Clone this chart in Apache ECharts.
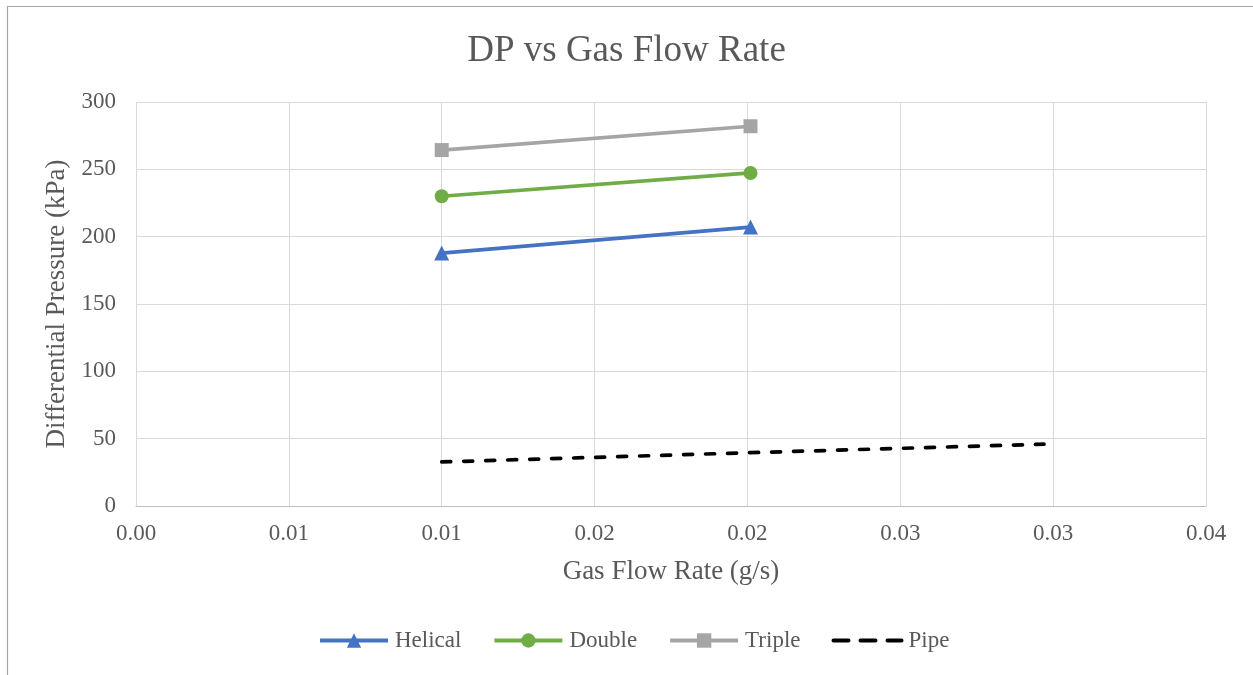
<!DOCTYPE html>
<html><head><meta charset="utf-8">
<script src="https://cdn.jsdelivr.net/npm/echarts@6/dist/echarts.min.js"></script>
<style>html,body{margin:0;padding:0;background:#fff}#c{width:1253px;height:675px}</style>
</head><body><div id="c"></div>
<script>
const xTickLabels = ["0.00","0.01","0.01","0.02","0.02","0.03","0.03","0.04"];
const helical = [[0.0100, 187.8], [0.0201, 207.1]];
const double_ = [[0.0100, 230.0], [0.0201, 247.3]];
const triple = [[0.0100, 264.3], [0.0201, 282.0]];
const pipe = [[0.0100, 32.7], [0.0201, 39.6], [0.0297, 45.9]];

const font = "'Liberation Serif','Times New Roman',serif";
const txt = '#595959';
const chart = echarts.init(document.getElementById('c'), null, {renderer:'canvas'});
chart.setOption({
  animation:false,
  backgroundColor:'#fff',
  graphic:[{type:'rect', shape:{x:7.5,y:6.5,width:1260,height:680}, style:{fill:'none', stroke:'#a6a6a6', lineWidth:1.2}, silent:true}],
  title:{text:'DP vs Gas Flow Rate', left:'center', top:28, textStyle:{fontFamily:font, fontSize:37, fontWeight:'normal', color:txt}},
  grid:{left:136, right:47, top:102, bottom:169},
  legend:{top:629, left:318, padding:0, itemGap:31, itemWidth:68, itemHeight:18,
    lineStyle:{width:4},
    textStyle:{fontFamily:font, fontSize:23, color:txt, padding:[0,0,0,2]},
    data:['Helical','Double','Triple',{name:'Pipe', itemStyle:{opacity:0}, lineStyle:{type:[15,12], width:4, cap:'round'}}]},
  xAxis:{type:'value', min:0, max:0.035, interval:0.005,
    name:'Gas Flow Rate (g/s)', nameLocation:'middle', nameGap:52,
    nameTextStyle:{fontFamily:font, fontSize:27, color:txt},
    axisLine:{show:true, lineStyle:{color:'#bfbfbf', width:1}},
    axisTick:{show:false},
    splitLine:{show:true, lineStyle:{color:'#d9d9d9', width:1}},
    axisLabel:{fontFamily:font, fontSize:23, color:txt, margin:16,
      formatter:v=>xTickLabels[Math.round(v/0.005)]}},
  yAxis:{type:'value', min:0, max:300, interval:50,
    name:'Differential Pressure (kPa)', nameLocation:'middle', nameGap:66,
    nameTextStyle:{fontFamily:font, fontSize:27, color:txt},
    axisLine:{show:false}, axisTick:{show:false},
    splitLine:{show:true, lineStyle:{color:'#d9d9d9', width:1}},
    axisLabel:{fontFamily:font, fontSize:23, color:txt, margin:20}},
  series:[
    {name:'Helical', type:'line', data:helical, symbol:'triangle', symbolSize:15,
      lineStyle:{color:'#4472c4', width:3.7}, itemStyle:{color:'#4472c4'}},
    {name:'Double', type:'line', data:double_, symbol:'circle', symbolSize:14,
      lineStyle:{color:'#70ad47', width:3.7}, itemStyle:{color:'#70ad47'}},
    {name:'Triple', type:'line', data:triple, symbol:'rect', symbolSize:14,
      lineStyle:{color:'#a5a5a5', width:3.7}, itemStyle:{color:'#a5a5a5'}},
    {name:'Pipe', type:'line', data:pipe, symbol:'none', showSymbol:false,
      lineStyle:{color:'#000', width:3.7, type:[9,13], cap:'round'}, itemStyle:{color:'#000'}}
  ]
});
</script></body></html>
